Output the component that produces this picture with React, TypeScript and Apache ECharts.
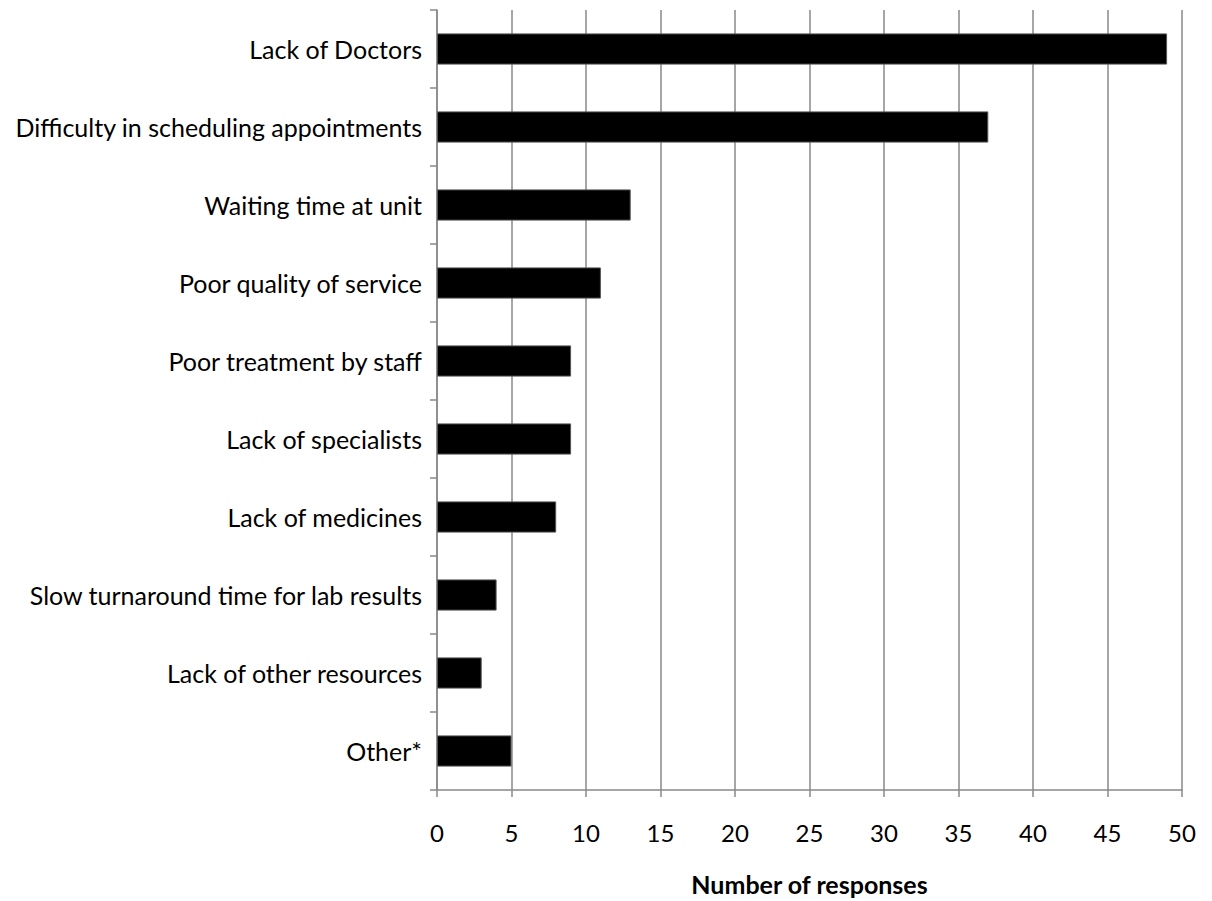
import React, { useEffect, useRef } from "react";
import * as echarts from "echarts";

const categories = [
  "Lack of Doctors",
  "Difficulty in scheduling appointments",
  "Waiting time at unit",
  "Poor quality of service",
  "Poor treatment by staff",
  "Lack of specialists",
  "Lack of medicines",
  "Slow turnaround time for lab results",
  "Lack of other resources",
  "Other*",
];
const responses = [49, 37, 13, 11, 9, 9, 8, 4, 3, 5];
const axisTitle = "Number of responses";

const FONT = "Lato, 'Open Sans', sans-serif";
const GRAY = "#898989";

export default function App() {
  const ref = useRef<HTMLDivElement>(null);
  useEffect(() => {
    const chart = echarts.init(ref.current!, null, { renderer: "svg" });
    chart.setOption({
      animation: false,
      backgroundColor: "#ffffff",
      grid: { left: 437, right: 30, top: 10, bottom: 111, containLabel: false },
      xAxis: {
        type: "value",
        min: 0,
        max: 50,
        interval: 5,
        name: axisTitle,
        nameLocation: "middle",
        nameGap: 81,
        nameTextStyle: { fontFamily: FONT, fontSize: 25, fontWeight: "bold", color: "#000" },
        axisLine: { show: true, lineStyle: { color: GRAY, width: 1.5 } },
        axisTick: { show: true, length: 7, lineStyle: { color: GRAY, width: 1.5 } },
        axisLabel: { fontFamily: FONT, fontSize: 24, color: "#000", margin: 30 },
        splitLine: { show: true, lineStyle: { color: GRAY, width: 1.5 } },
      },
      yAxis: {
        type: "category",
        inverse: true,
        data: categories,
        axisLine: { show: true, lineStyle: { color: GRAY, width: 1.5 } },
        axisTick: { show: true, length: 7, lineStyle: { color: GRAY, width: 1.5 } },
        axisLabel: { fontFamily: FONT, fontSize: 25, color: "#000", margin: 15 },
      },
      series: [
        {
          type: "bar",
          data: responses,
          barCategoryGap: "60%",
          itemStyle: { color: "#000", borderColor: "#555", borderWidth: 1 },
        },
      ],
    });
    return () => chart.dispose();
  }, []);
  return (
    <div
      ref={ref}
      style={{ position: "absolute", left: 0, top: 0, width: 1212, height: 901 }}
    />
  );
}
